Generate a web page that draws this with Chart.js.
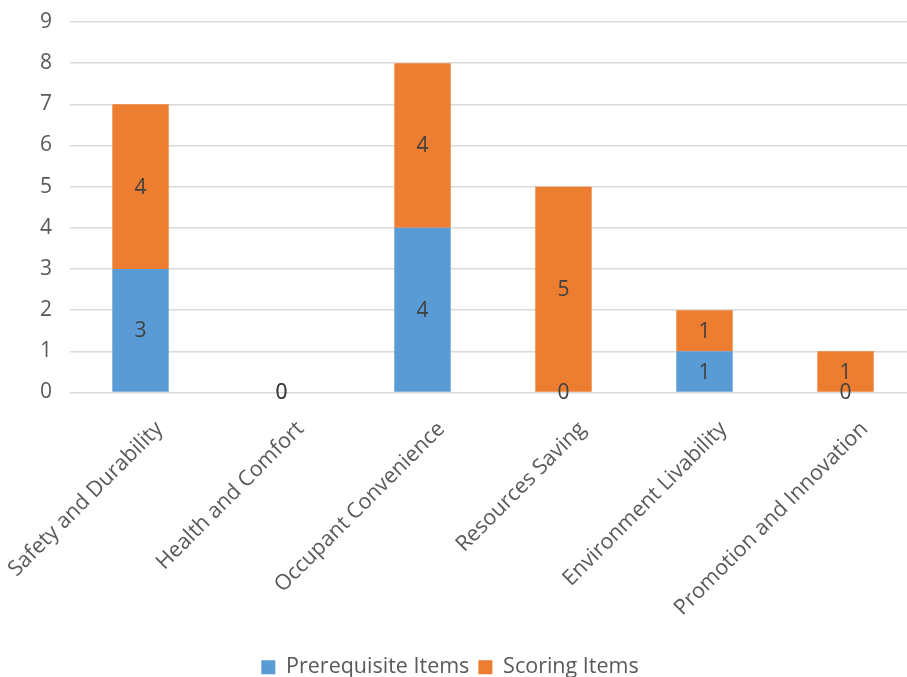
<!DOCTYPE html>
<html>
<head>
<meta charset="utf-8">
<script src="https://cdn.jsdelivr.net/npm/chart.js@4.4.1/dist/chart.umd.min.js"></script>
<style>
  html, body { margin: 0; padding: 0; background: #ffffff; overflow: hidden; }
  #wrap { position: absolute; left: -16px; top: 0; width: 932px; height: 688px; }
</style>
</head>
<body>
<div id="wrap"><canvas id="chart"></canvas></div>
<script>
// Categories and item counts per category
const categories = [
  'Safety and Durability',
  'Health and Comfort',
  'Occupant Convenience',
  'Resources Saving',
  'Environment Livability',
  'Promotion and Innovation'
];
const prerequisiteItems = [3, 0, 4, 0, 1, 0];
const scoringItems = [4, 0, 4, 5, 1, 1];
const yTicks = [0, 1, 2, 3, 4, 5, 6, 7, 8, 9];

const FONT = '"Open Sans", "Noto Sans", sans-serif';
const TEXT = '#595959';

// Writes each segment's value in the middle of its bar
const segmentLabels = {
  id: 'segmentLabels',
  afterDatasetsDraw(chart) {
    const ctx = chart.ctx;
    ctx.save();
    ctx.font = '21px ' + FONT;
    ctx.fillStyle = '#404040';
    ctx.textAlign = 'center';
    ctx.textBaseline = 'middle';
    chart.data.datasets.forEach((ds, i) => {
      const meta = chart.getDatasetMeta(i);
      meta.data.forEach((bar, j) => {
        const v = ds.data[j];
        ctx.fillText(String(v), bar.x, (bar.y + bar.base) / 2 + 1);
      });
    });
    ctx.restore();
  }
};

new Chart(document.getElementById('chart'), {
  type: 'bar',
  data: {
    labels: categories,
    datasets: [
      { label: 'Prerequisite Items', data: prerequisiteItems, backgroundColor: '#5B9BD5' },
      { label: 'Scoring Items', data: scoringItems, backgroundColor: '#ED7D31' }
    ]
  },
  options: {
    responsive: true,
    maintainAspectRatio: false,
    animation: false,
    layout: { padding: { top: 22, right: 0, left: 0, bottom: 0 } },
    datasets: { bar: { categoryPercentage: 1.0, barPercentage: 0.4 } },
    plugins: {
      legend: {
        position: 'bottom',
        labels: {
          font: { family: FONT, size: 21.5 },
          color: TEXT,
          boxWidth: 14,
          boxHeight: 14,
          padding: 9
        }
      },
      tooltip: { enabled: false }
    },
    scales: {
      x: {
        stacked: true,
        grid: { display: false },
        border: { display: false },
        afterFit(scale) {
          scale.height = 255;
          scale.paddingLeft = 0;
          scale.paddingRight = 0;
        },
        ticks: {
          autoSkip: false,
          maxRotation: 45,
          minRotation: 45,
          color: TEXT,
          font: { family: FONT, size: 21.5 },
          padding: 16,
          labelOffset: 19
        }
      },
      y: {
        stacked: true,
        min: 0,
        max: 9,
        afterBuildTicks(scale) { scale.ticks = yTicks.map(v => ({ value: v })); },
        afterFit(scale) {
          scale.width = 86;
          scale.paddingTop = 0;
          scale.paddingBottom = 0;
        },
        grid: { color: '#D9D9D9', lineWidth: 1.5, drawTicks: false },
        border: { display: false },
        ticks: {
          color: TEXT,
          font: { family: FONT, size: 21 },
          padding: 18
        }
      }
    }
  },
  plugins: [segmentLabels]
});
</script>
</body>
</html>
